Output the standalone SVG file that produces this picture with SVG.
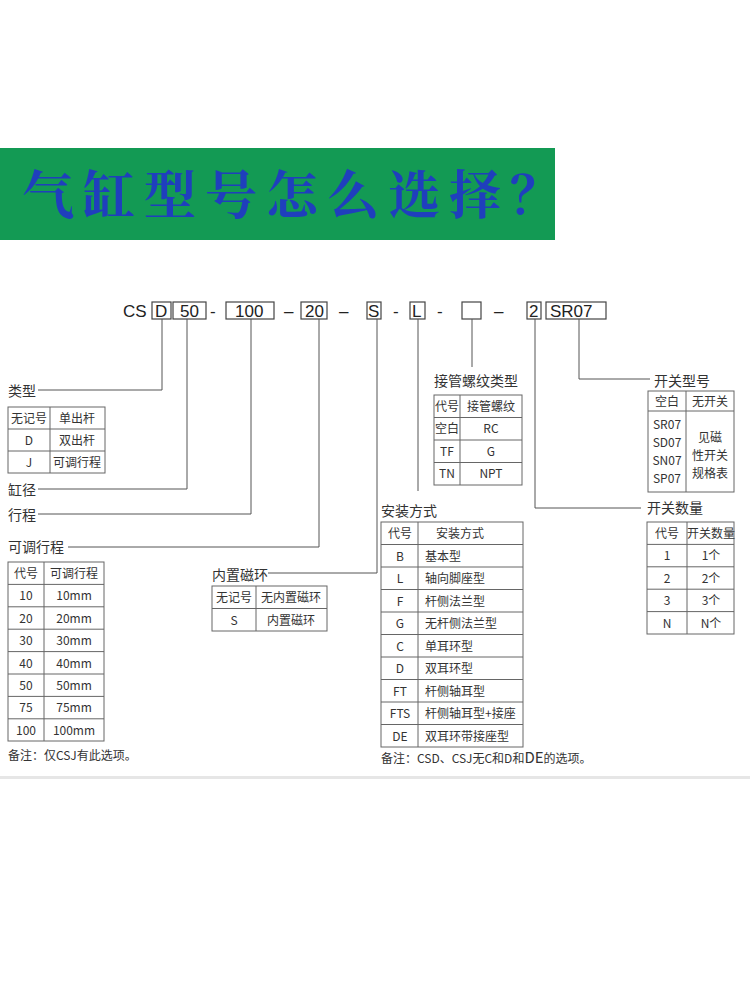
<svg xmlns="http://www.w3.org/2000/svg" width="750" height="1000" viewBox="0 0 750 1000">
<style>
.t{font-family:"Noto Sans CJK SC","Noto Sans",sans-serif;fill:#333}
.c{font-family:"Liberation Sans",Arial,sans-serif;font-size:17px;fill:#222}
.lb{font-size:14px}
.tb{font-size:12px;text-anchor:middle}
.tl{font-size:12px}
.b{fill:none;stroke:#444;stroke-width:1.2}
.g{fill:none;stroke:#666;stroke-width:1}
.ln{fill:none;stroke:#555;stroke-width:1}
</style>
<rect width="750" height="1000" fill="#fff"/>
<g id="title">
<rect x="0" y="148" width="555" height="92" fill="#139a54"/>
<text x="22" y="214" font-family="'Noto Serif CJK SC','Noto Sans CJK SC',serif" font-size="52" fill="#1f3fbd" font-weight="bold" letter-spacing="9">气缸型号怎么选择？</text>
</g>
<g id="code">
<text class="c" x="123" y="317">CS</text>
<rect class="b" x="152" y="302" width="19" height="17"/><text class="c" x="155" y="317">D</text>
<rect class="b" x="173" y="302" width="33" height="17"/><text class="c" x="180" y="317">50</text>
<text class="c" x="210" y="317">-</text>
<rect class="b" x="226" y="302" width="48" height="17"/><text class="c" x="235" y="317">100</text>
<text class="c" x="284" y="317">–</text>
<rect class="b" x="301" y="302" width="26" height="17"/><text class="c" x="305" y="317">20</text>
<text class="c" x="339" y="317">–</text>
<rect class="b" x="367" y="302" width="14" height="17"/><text class="c" x="368" y="317">S</text>
<text class="c" x="393" y="317">-</text>
<rect class="b" x="410" y="302" width="15" height="17"/><text class="c" x="412" y="317">L</text>
<text class="c" x="437" y="317">-</text>
<rect class="b" x="462" y="302" width="19" height="17"/>
<text class="c" x="494" y="317">–</text>
<rect class="b" x="527" y="302" width="14" height="17"/><text class="c" x="529" y="317">2</text>
<rect class="b" x="546" y="302" width="60" height="17"/><text class="c" x="550" y="317">SR07</text>
</g>
<g id="connectors">
<polyline class="ln" points="162,319 162,390 38,390"/>
<polyline class="ln" points="187,319 187,489 38,489"/>
<polyline class="ln" points="251,319 251,514 38,514"/>
<polyline class="ln" points="319,319 319,547 68,547"/>
<polyline class="ln" points="377,319 377,573 268,573"/>
<polyline class="ln" points="418,319 418,491"/>
<polyline class="ln" points="472,319 472,367"/>
<polyline class="ln" points="535,319 535,508 641,508"/>
<polyline class="ln" points="579,319 579,379 650,379"/>
</g>
<g id="type">
<text class="t lb" x="8" y="396">类型</text>
<rect class="g" x="8" y="407" width="97" height="66"/>
<path class="g" d="M50 407V473M8 429H105M8 451H105"/>
<text class="t tb" x="29" y="423">无记号</text><text class="t tb" x="77" y="423">单出杆</text>
<text class="t tb" x="29" y="445">D</text><text class="t tb" x="77" y="445">双出杆</text>
<text class="t tb" x="29" y="467">J</text><text class="t tb" x="77" y="467">可调行程</text>
</g>
<g id="bore"><text class="t lb" x="8" y="495">缸径</text></g>
<g id="stroke"><text class="t lb" x="8" y="520">行程</text></g>
<g id="adj">
<text class="t lb" x="8" y="552">可调行程</text>
<rect class="g" x="8" y="562" width="96" height="179"/>
<path class="g" d="M44 562V741M8 584.4H104M8 606.8H104M8 629.2H104M8 651.6H104M8 674H104M8 696.4H104M8 718.8H104"/>
<text class="t tb" x="26" y="578">代号</text><text class="t tb" x="74" y="578">可调行程</text>
<text class="t tb" x="26" y="600">10</text><text class="t tb" x="74" y="600">10mm</text>
<text class="t tb" x="26" y="623">20</text><text class="t tb" x="74" y="623">20mm</text>
<text class="t tb" x="26" y="645">30</text><text class="t tb" x="74" y="645">30mm</text>
<text class="t tb" x="26" y="668">40</text><text class="t tb" x="74" y="668">40mm</text>
<text class="t tb" x="26" y="690">50</text><text class="t tb" x="74" y="690">50mm</text>
<text class="t tb" x="26" y="712">75</text><text class="t tb" x="74" y="712">75mm</text>
<text class="t tb" x="26" y="735">100</text><text class="t tb" x="74" y="735">100mm</text>
<text class="t tl" x="8" y="760">备注：仅CSJ有此选项。</text>
</g>
<g id="mag">
<text class="t lb" x="212" y="580">内置磁环</text>
<rect class="g" x="212" y="586" width="115" height="45"/>
<path class="g" d="M256 586V631M212 608.5H327"/>
<text class="t tb" x="234" y="602">无记号</text><text class="t tb" x="291" y="602">无内置磁环</text>
<text class="t tb" x="234" y="625">S</text><text class="t tb" x="291" y="625">内置磁环</text>
</g>
<g id="thread">
<text class="t lb" x="434" y="386">接管螺纹类型</text>
<rect class="g" x="434" y="395" width="88" height="90"/>
<path class="g" d="M460 395V485M434 417.5H522M434 440H522M434 462.5H522"/>
<text class="t tb" x="447" y="411">代号</text><text class="t tb" x="491" y="411">接管螺纹</text>
<text class="t tb" x="447" y="433">空白</text><text class="t tb" x="491" y="433">RC</text>
<text class="t tb" x="447" y="456">TF</text><text class="t tb" x="491" y="456">G</text>
<text class="t tb" x="447" y="478">TN</text><text class="t tb" x="491" y="478">NPT</text>
</g>
<g id="mount">
<text class="t lb" x="381" y="516">安装方式</text>
<rect class="g" x="381" y="522" width="142" height="225"/>
<path class="g" d="M418 522V747M381 544.5H523M381 567H523M381 589.5H523M381 612H523M381 634.5H523M381 657H523M381 679.5H523M381 702H523M381 724.5H523"/>
<text class="t tb" x="400" y="538">代号</text><text class="t tb" x="460" y="538">安装方式</text>
<text class="t tb" x="400" y="561">B</text><text class="t tl" x="425" y="561">基本型</text>
<text class="t tb" x="400" y="583">L</text><text class="t tl" x="425" y="583">轴向脚座型</text>
<text class="t tb" x="400" y="606">F</text><text class="t tl" x="425" y="606">杆侧法兰型</text>
<text class="t tb" x="400" y="628">G</text><text class="t tl" x="425" y="628">无杆侧法兰型</text>
<text class="t tb" x="400" y="651">C</text><text class="t tl" x="425" y="651">单耳环型</text>
<text class="t tb" x="400" y="673">D</text><text class="t tl" x="425" y="673">双耳环型</text>
<text class="t tb" x="400" y="696">FT</text><text class="t tl" x="425" y="696">杆侧轴耳型</text>
<text class="t tb" x="400" y="718">FTS</text><text class="t tl" x="425" y="718">杆侧轴耳型+接座</text>
<text class="t tb" x="400" y="741">DE</text><text class="t tl" x="425" y="741">双耳环带接座型</text>
<text class="t tl" x="381" y="763">备注：CSD、CSJ无C和D和<tspan font-size="15">DE</tspan>的选项。</text>
</g>
<g id="sw">
<text class="t lb" x="654" y="386">开关型号</text>
<rect class="g" x="648" y="391" width="86" height="101"/>
<path class="g" d="M686 391V492M648 411H734"/>
<text class="t tb" x="667" y="406">空白</text><text class="t tb" x="710" y="406">无开关</text>
<text class="t tb" x="667" y="429">SR07</text><text class="t tb" x="667" y="447">SD07</text>
<text class="t tb" x="667" y="465">SN07</text><text class="t tb" x="667" y="483">SP07</text>
<text class="t tb" x="710" y="442">见磁</text><text class="t tb" x="710" y="460">性开关</text><text class="t tb" x="710" y="478">规格表</text>
</g>
<g id="swn">
<text class="t lb" x="647" y="513">开关数量</text>
<rect class="g" x="647" y="522" width="87" height="112"/>
<path class="g" d="M687 522V634M647 544.4H734M647 566.8H734M647 589.2H734M647 611.6H734"/>
<text class="t tb" x="667" y="538">代号</text><text class="t tb" x="711" y="538" font-size="11">开关数量</text>
<text class="t tb" x="667" y="560">1</text><text class="t tb" x="711" y="560">1个</text>
<text class="t tb" x="667" y="583">2</text><text class="t tb" x="711" y="583">2个</text>
<text class="t tb" x="667" y="605">3</text><text class="t tb" x="711" y="605">3个</text>
<text class="t tb" x="667" y="628">N</text><text class="t tb" x="711" y="628">N个</text>
</g>
<rect x="0" y="776" width="750" height="3" fill="#e6e6e6"/>
</svg>
